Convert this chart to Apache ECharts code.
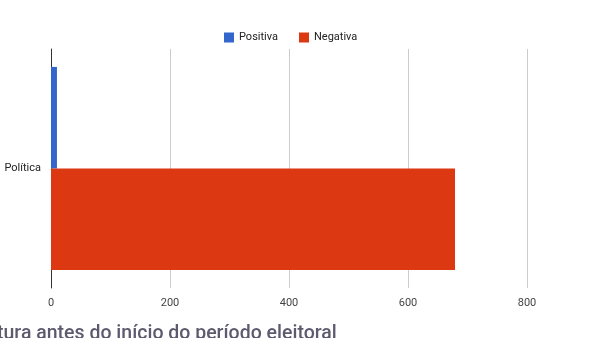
<!DOCTYPE html>
<html><head><meta charset="utf-8">
<script src="https://cdn.jsdelivr.net/npm/echarts@6/dist/echarts.min.js"></script>
<style>html,body{margin:0;padding:0;background:#fff}#c{width:600px;height:338px}</style>
</head><body><div id="c"></div>
<script>
const categories = ['Política'];
const positiva = [10];
const negativa = [679];
const xTicks = [0, 200, 400, 600, 800];

const chart = echarts.init(document.getElementById('c'), null, {renderer: 'canvas'});
chart.setOption({
  animation: false,
  backgroundColor: '#fff',
  legend: {
    top: 27, left: 219, itemWidth: 10, itemHeight: 10, itemGap: 21,
    icon: 'rect',
    textStyle: {fontFamily: 'Roboto, Arial', fontSize: 11, color: '#222'},
    data: ['Positiva', 'Negativa']
  },
  grid: {left: 51, right: 73, top: 49, bottom: 50, containLabel: false},
  xAxis: {
    type: 'value', min: xTicks[0], max: xTicks[xTicks.length - 1], interval: 200,
    axisLine: {show: false}, axisTick: {show: false},
    splitLine: {show: true, lineStyle: {color: '#cccccc', width: 1}},
    axisLabel: {fontFamily: 'Roboto, Arial', fontSize: 11, color: '#444', margin: 10}
  },
  yAxis: {
    type: 'category', data: categories, inverse: true,
    axisLine: {show: true, lineStyle: {color: '#333', width: 1}},
    axisTick: {show: false},
    axisLabel: {fontFamily: 'Roboto, Arial', fontSize: 11, color: '#222', margin: 10}
  },
  series: [
    {name: 'Positiva', type: 'bar', data: positiva, itemStyle: {color: '#3366cc'}, barGap: '0%', barCategoryGap: '15%'},
    {name: 'Negativa', type: 'bar', data: negativa, itemStyle: {color: '#dc3912'}, barGap: '0%', barCategoryGap: '15%'}
  ],
  graphic: [{
    type: 'text', left: -3, top: 324,
    style: {text: 'tura antes do início do período eleitoral', fontFamily: 'Roboto, Arial', fontSize: 19.5, fontWeight: 500, fill: '#5d5a6e'}
  }]
});
</script></body></html>
